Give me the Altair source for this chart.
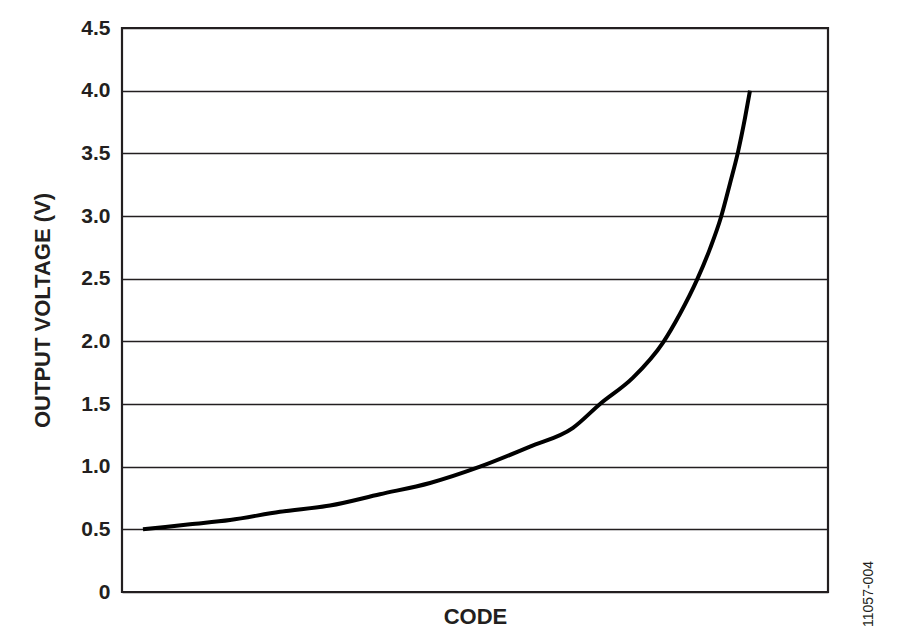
import altair as alt
import pandas as pd

# Data (code in arbitrary 0-100 units, voltage in V)
code = [2.97, 9.63, 15.30, 22.38, 29.46, 36.54, 43.63, 50.71, 57.79, 63.88,
        67.71, 72.38, 76.63, 79.04, 81.44, 83.29, 84.84, 86.12, 87.25, 88.24, 88.95]
voltage = [0.50, 0.54, 0.574, 0.64, 0.69, 0.78, 0.87, 1.00, 1.16, 1.31,
           1.50, 1.71, 1.99, 2.22, 2.49, 2.74, 2.99, 3.26, 3.51, 3.78, 4.00]
y_ticks = [0, 0.5, 1.0, 1.5, 2.0, 2.5, 3.0, 3.5, 4.0, 4.5]
fig_id = ["11057-004"]

df = pd.DataFrame({"code": code, "voltage": voltage})

W, H = 706, 564
FONT = "Liberation Sans"
INK = "#231f20"

line = alt.Chart(df).mark_line(color="black", strokeWidth=4, interpolate="monotone").encode(
    x=alt.X("code:Q", scale=alt.Scale(domain=[0, 100], nice=False),
            axis=alt.Axis(title="CODE", labels=False, ticks=False, domain=False, grid=False,
                          titleFont=FONT, titleFontSize=22, titleFontWeight="bold",
                          titleColor=INK, titlePadding=14)),
    y=alt.Y("voltage:Q", scale=alt.Scale(domain=[0, 4.5], nice=False),
            axis=alt.Axis(title="OUTPUT VOLTAGE (V)", values=y_ticks,
                          labelExpr="datum.value == 0 ? '0' : format(datum.value, '.1f')",
                          ticks=False, domain=False, grid=True,
                          gridColor=INK, gridWidth=1.4, gridOpacity=1,
                          labelFont=FONT, labelFontSize=21, labelFontWeight="bold",
                          labelColor=INK, labelPadding=12,
                          titleFont=FONT, titleFontSize=22, titleFontWeight="bold",
                          titleColor=INK, titlePadding=26)),
)

label = alt.Chart(pd.DataFrame({"t": fig_id})).mark_text(
    angle=270, align="center", baseline="middle", font=FONT, fontSize=14, color=INK
).encode(text="t:N", x=alt.value(W + 41), y=alt.value(H + 2))

chart = alt.layer(line, label).properties(
    width=W, height=H,
    autosize=alt.AutoSizeParams(type="none"),
    padding={"left": 114, "top": 20, "right": 60, "bottom": 39},
    background="white",
).configure_view(stroke=INK, strokeWidth=2.2)

chart.save("out.html", embed_options={"renderer": "svg", "actions": False})
